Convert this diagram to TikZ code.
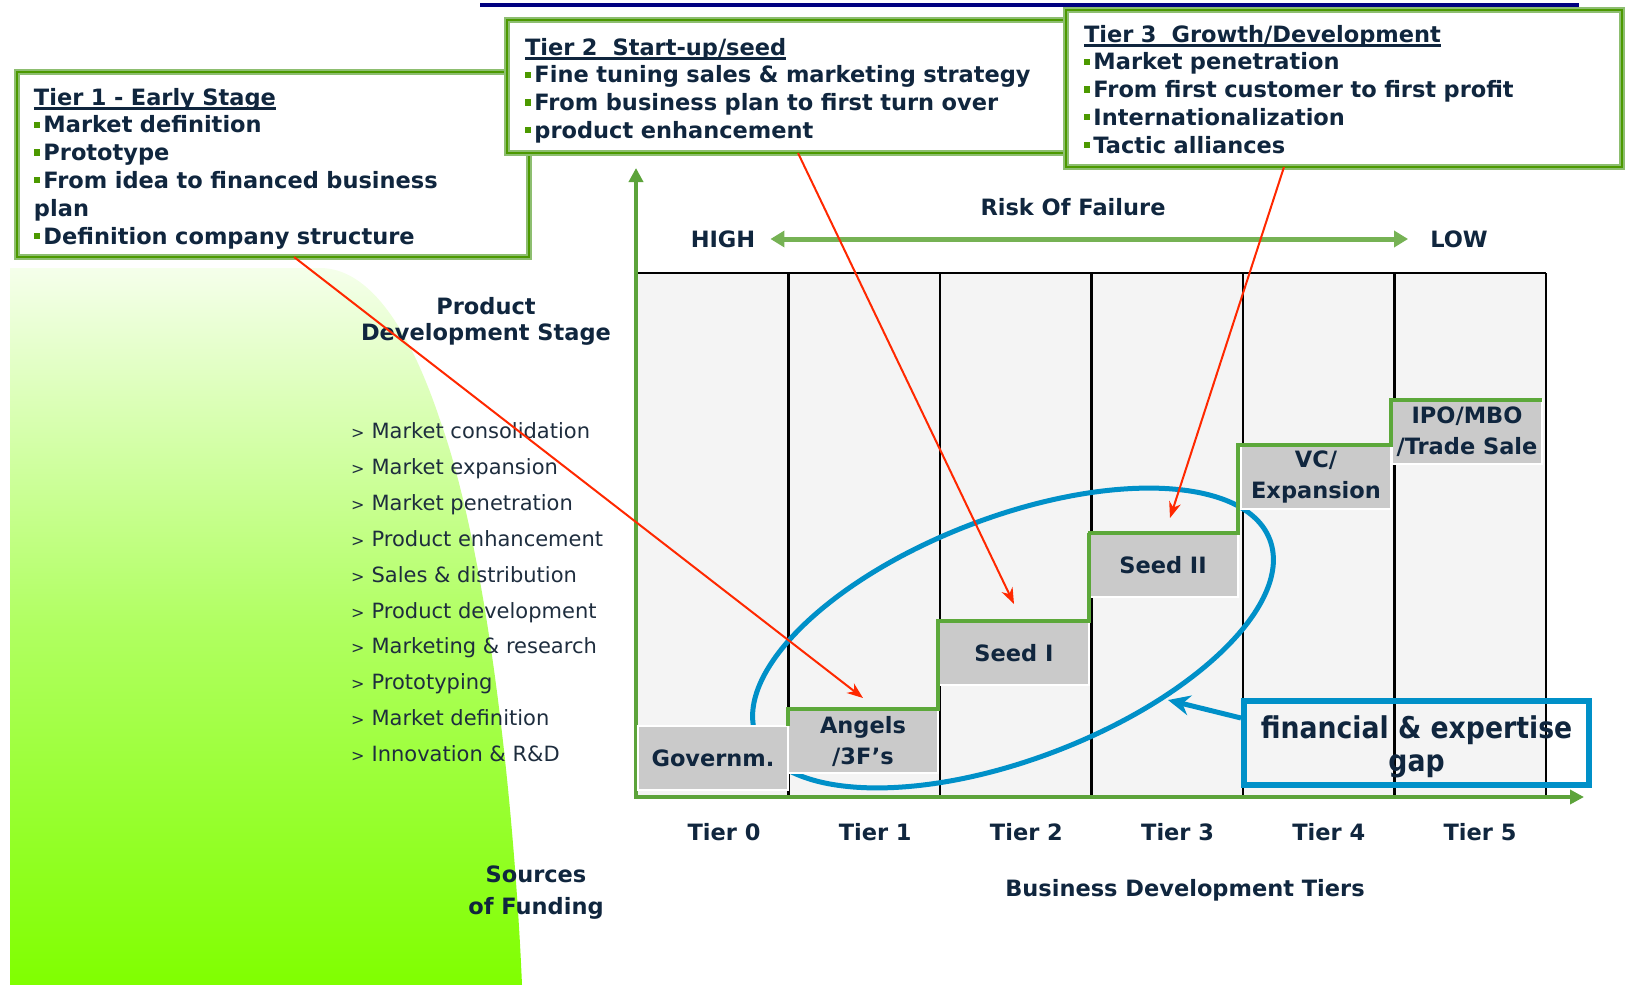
\documentclass[tikz,border=0pt]{standalone}
\usepackage{fontspec}
\setmainfont{DejaVu Sans}
\newfontfamily\gapfont{DejaVu Sans}[FakeStretch=0.89]
\usetikzlibrary{arrows.meta}
\definecolor{txtnavy}{RGB}{16,38,62}
\definecolor{txtgrey}{RGB}{30,45,62}
\definecolor{palegreen}{RGB}{141,190,112}
\definecolor{darkgreen}{RGB}{76,153,0}
\definecolor{bulletgreen}{RGB}{76,153,0}
\definecolor{axisgreen}{RGB}{92,163,58}
\definecolor{stairgreen}{RGB}{92,168,58}
\definecolor{riskgreen}{RGB}{118,178,84}
\definecolor{stepgrey}{RGB}{202,202,202}
\definecolor{gridgrey}{RGB}{244,244,244}
\definecolor{gapblue}{RGB}{0,144,200}
\definecolor{arrowred}{RGB}{255,40,0}
\definecolor{topnavy}{RGB}{0,0,128}
\definecolor{fundlime}{RGB}{128,255,0}
\newcommand{\tb}{\textcolor{bulletgreen}{\rule[0.22em]{0.28em}{0.28em}}\hspace{0.14em}}
\newcommand{\ttl}[1]{\setbox0\hbox{#1}\rlap{\rule[-4.5pt]{\wd0}{2.2pt}}\box0}
\begin{document}
\begin{tikzpicture}[x=1pt,y=-1pt,
  every node/.style={text=txtnavy},
  lbl/.style={inner sep=0pt, font=\fontsize{22.5}{27}\selectfont\bfseries},
  listlbl/.style={anchor=base west, inner sep=0pt, text=txtgrey, font=\fontsize{21}{24}\selectfont},
  tierbox/.style={anchor=north west, align=left, outer sep=0pt, inner ysep=6pt, draw=palegreen, line width=6pt, fill=white,
    postaction={draw=darkgreen, line width=2pt}, font=\fontsize{22.5}{27.8}\selectfont\bfseries},
  stepbox/.style={draw=white, line width=2.5pt, fill=stepgrey, minimum width=150pt, minimum height=64pt, inner sep=0pt,
    outer sep=0pt, align=center, font=\fontsize{22.5}{31}\selectfont\bfseries},
  gapbox/.style={draw=gapblue, line width=6pt, minimum width=345pt, minimum height=84pt, inner sep=0pt, align=center,
    text height=62pt, text depth=6pt, font=\fontsize{30}{33}\gapfont\bfseries},
  stairline/.style={draw=stairgreen, line width=4.5pt},
  gridline/.style={draw=black, line width=2.6pt},
  axisline/.style={draw=axisgreen, line width=4.5pt, {Triangle[length=14pt,width=14pt]}-{Triangle[length=14pt,width=14pt]}},
  riskarrow/.style={draw=riskgreen, line width=5pt, {Triangle[length=14pt,width=16pt]}-{Triangle[length=14pt,width=16pt]},
    shorten <=15pt, shorten >=22pt},
  redarrow/.style={draw=arrowred, line width=2pt, -{Stealth[length=16pt,width=12pt,inset=5pt]}},
  gaparrow/.style={draw=gapblue, line width=5pt, -{Stealth[length=22pt,width=20pt]}}]
  \useasboundingbox (0,0) rectangle (1628,985);
  \shade[top color=fundlime!8, bottom color=fundlime, middle color=fundlime!62]
    (10,268) -- (10,985) -- (522,985) .. controls (515,820) and (490,560) .. (440,420)
    .. controls (410,330) and (370,268) .. (320,268) -- cycle;
  \draw[topnavy, line width=4pt] (480,5) -- (1579,5);

  \fill[gridgrey] (637,273) rectangle (1546,796);
  \foreach \c in {1,...,6}
    \draw[gridline] ({637+151.5*\c},273) -- ({637+151.5*\c},796);
  \draw[gridline] (637,273) -- (1546,273);

  \coordinate (org) at (636,797);
  \coordinate (ytip) at (636,168);
  \coordinate (xtip) at (1584,797);
  \draw[axisline] (ytip) -- (org) -- (xtip);

  \draw[gapblue, line width=5pt, rotate around={21:(1013,638)}] (1013,638) ellipse (275 and 121);

  \node[stepbox] (gov) at (713,758) {Governm.};
  \node[stepbox] (angels) at (863,741) {Angels\\/3F's};
  \node[stepbox] (seedA) at (1014,653) {Seed I};
  \node[stepbox] (seedB) at (1163,565) {Seed II};
  \node[stepbox] (vc) at (1316,477) {VC/\\Expansion};
  \node[stepbox] (ipo) at (1467,432) {IPO/MBO\\/Trade Sale};
  \draw[stairline, yshift=1.5pt] (gov.north east) -- (angels.north west) -- (angels.north east) |- (seedA.north west)
    -- (seedA.north east) |- (seedB.north west) -- (seedB.north east) |- (vc.north west)
    -- (vc.north east) |- (ipo.north west) -- (ipo.north east);

  \node[gapbox] (gap) at (1416.5,743) {financial \& expertise\\gap};
  \coordinate (gaptip) at (1168,700);
  \draw[gaparrow] ([yshift=25pt]gap.west) -- (gaptip);

  \foreach \t in {0,...,5}
    \node[lbl] (tier\t) at ({724+151.2*\t},832) {Tier \t};
  \node[lbl] (bdt) at (1185,890) {Business Development Tiers};
  \node[lbl] (risk) at (1073,207) {Risk Of Failure};
  \node[lbl] (high) at (723,239) {HIGH};
  \node[lbl] (low) at (1459,239) {LOW};
  \draw[riskarrow] (high) -- (low);

  \node[lbl, align=center, font=\fontsize{22.5}{26}\selectfont\bfseries] (pds) at (486,321) {Product\\Development Stage};
  \foreach \stg [count=\i from 0] in {Market consolidation, Market expansion, Market penetration,
      Product enhancement, Sales \& distribution, Product development, Marketing \& research,
      Prototyping, Market definition, Innovation \& R\&D}
    \node[listlbl] (stage\i) at (351,{438.5+35.9*\i}) {{\fontsize{16}{16}\selectfont>}\hspace{7pt}\stg};
  \node[lbl, align=center, font=\fontsize{22.5}{32}\selectfont\bfseries] (src) at (536,893) {Sources\\of Funding};

  \node[tierbox, text width=478pt, inner xsep=17pt, text height=27pt, text depth=146pt] (t1) at (17,72)
    {\ttl{Tier 1 - Early Stage}\\\tb Market definition\\\tb Prototype\\\tb From idea to financed business\\plan\\\tb Definition company structure};
  \node[tierbox, text width=524pt, inner xsep=18pt, text height=29pt, text depth=92pt] (t2) at (507,20)
    {\ttl{Tier 2\ \ Start-up/seed}\\\tb Fine tuning sales \& marketing strategy\\\tb From business plan to first turn over\\\tb product enhancement};
  \node[tierbox, text width=520pt, inner xsep=18pt, text height=26pt, text depth=119pt] (t3) at (1066,10)
    {\ttl{Tier 3\ \ Growth/Development}\\\tb Market penetration\\\tb From first customer to first profit\\\tb Internationalization\\\tb Tactic alliances};

  \draw[redarrow] ([xshift=21pt]t1.south) -- ([yshift=11pt]angels.north);
  \draw[redarrow] ([xshift=11pt]t2.south) -- ([yshift=17pt]seedA.north);
  \draw[redarrow] ([xshift=-60pt]t3.south) -- ([xshift=7pt,yshift=15pt]seedB.north);
\end{tikzpicture}
\end{document}
